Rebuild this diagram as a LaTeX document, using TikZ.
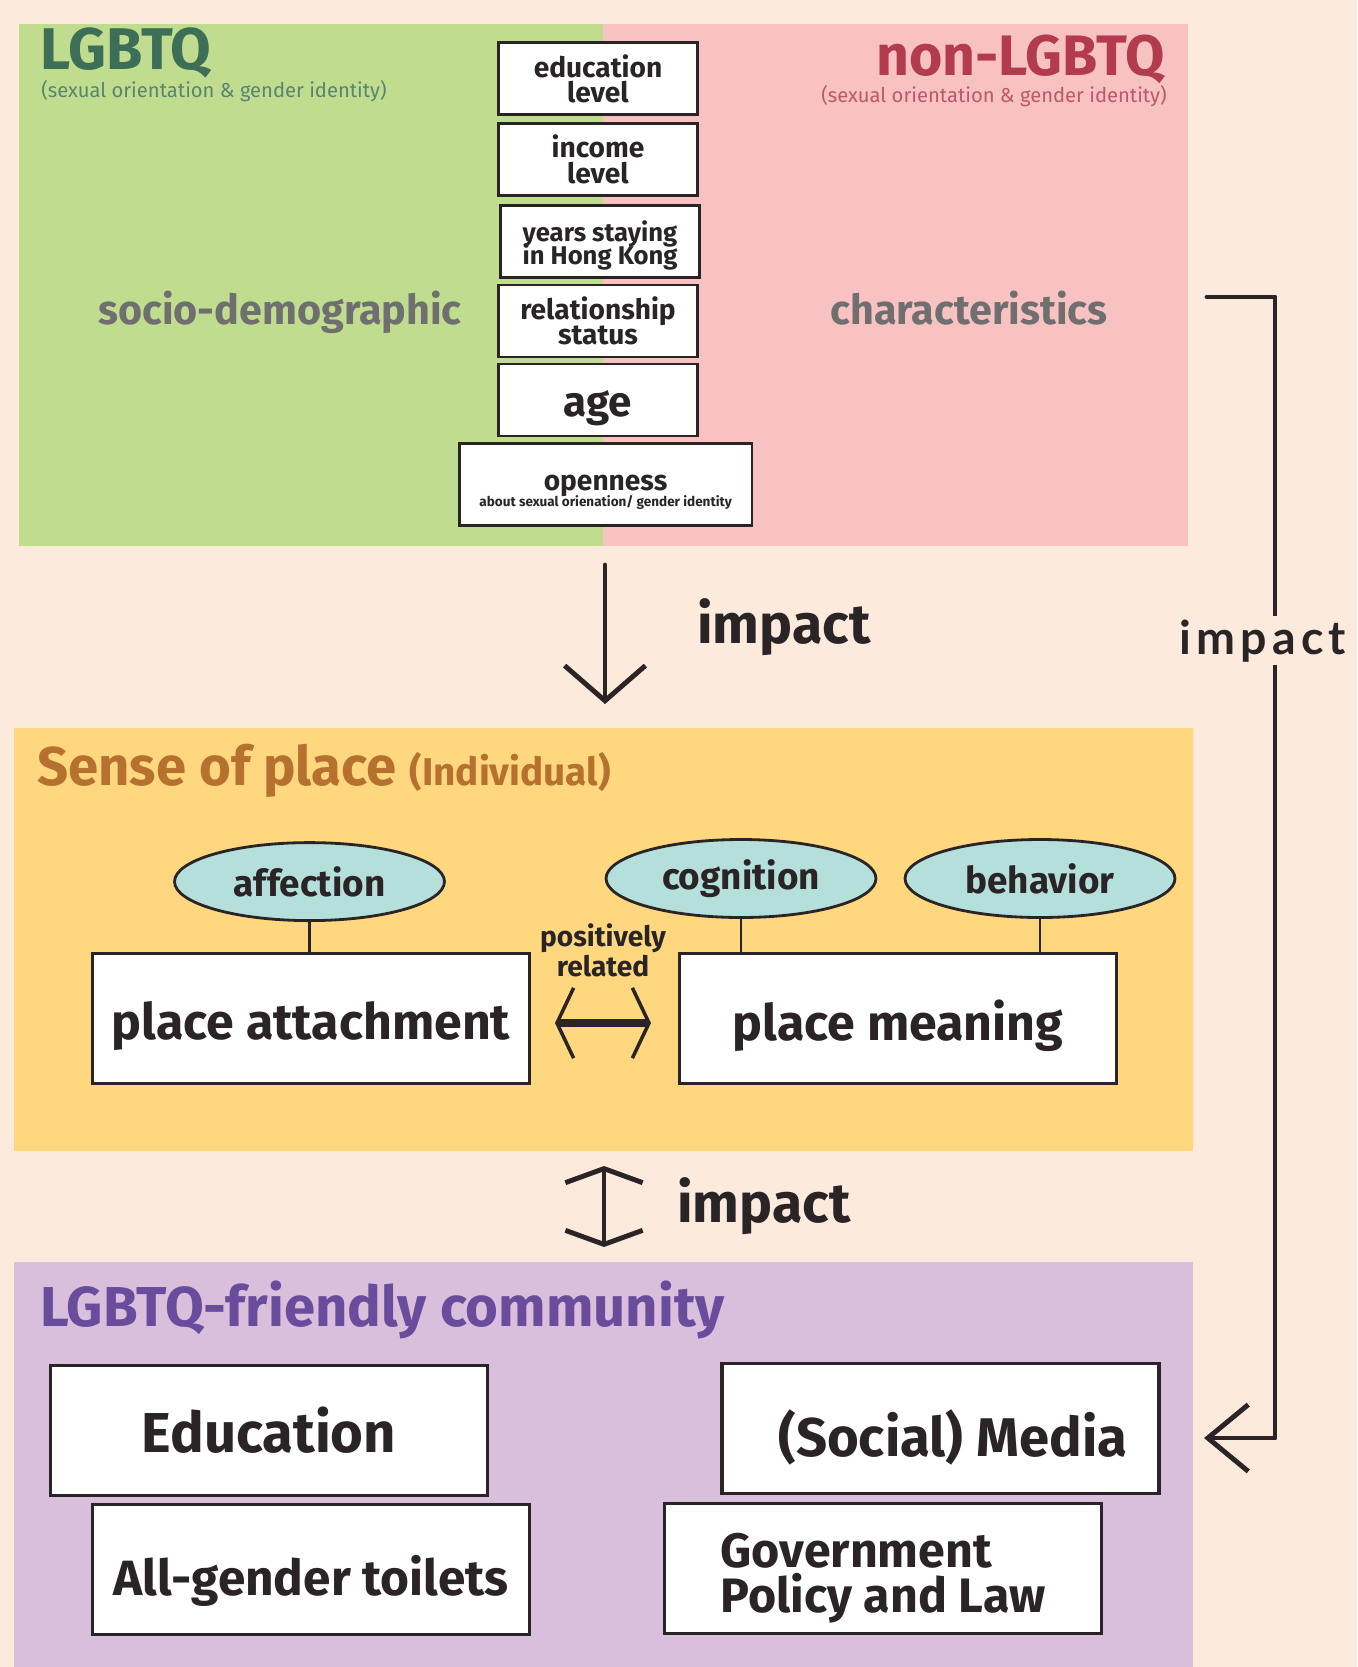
\documentclass[tikz,border=0pt]{standalone}
\usepackage{fontspec}
\setmainfont{Fira Sans}
\newfontfamily\widefont[LetterSpace=11]{Lato}
\usetikzlibrary{shapes.geometric,arrows.meta}

\definecolor{peach}{HTML}{FCEBDC}
\definecolor{lgbtgreen}{HTML}{C0DC8E}
\definecolor{nonpink}{HTML}{F9C2C2}
\definecolor{placeyellow}{HTML}{FED77E}
\definecolor{communitypurple}{HTML}{DABFDC}
\definecolor{traitteal}{HTML}{B5DFDA}
\definecolor{titlegreen}{HTML}{3D6E58}
\definecolor{titlered}{HTML}{B23B4D}
\definecolor{titlegray}{HTML}{6F6F6F}
\definecolor{titleorange}{HTML}{B6712F}
\definecolor{titleviolet}{HTML}{6A4C9C}
\definecolor{ink}{HTML}{2A2426}

\newcommand{\fsz}[2]{\fontsize{#1}{#2}\selectfont}
% lower a line of text without changing the box it takes up
\newcommand{\dropline}[2]{\raisebox{-#1}[\height][\depth]{#2}}

\begin{document}
\begin{tikzpicture}[x=0.02cm,y=-0.02cm,
    factorbox/.style={draw=ink, fill=white, line width=1.5pt, inner sep=0pt,
        minimum width=3.98cm, minimum height=1.44cm, align=center, text=ink, font=\bfseries},
    bigbox/.style={draw=ink, fill=white, line width=1.8pt, inner sep=0pt,
        minimum width=8.74cm, minimum height=2.6cm, align=center, text=ink, font=\bfseries},
    trait/.style={ellipse, draw=ink, fill=traitteal, line width=1.6pt, inner sep=0pt,
        minimum width=5.4cm, minimum height=1.56cm, text=ink, font=\bfseries\fsz{21}{21}},
    heading/.style={inner sep=0pt, anchor=base west, font=\bfseries\fsz{31}{31}},
    impactlabel/.style={inner sep=0pt, anchor=base west, text=ink, font=\bfseries\fsz{31.5}{31.5}},
    pointer/.style={draw=ink, line width=2.8pt, line cap=round, line join=round},
]
\useasboundingbox (0,0) rectangle (1357,1667);
\fill[peach] (0,0) rectangle (1357,1667);

% panels
\fill[lgbtgreen] (19,24) rectangle (603,546);
\fill[nonpink] (603,24) rectangle (1188,546);
\fill[placeyellow] (14,728) rectangle (1193,1151);
\fill[communitypurple] (14,1262) rectangle (1193,1667);

% top panel
\node[heading, text=titlegreen, font=\bfseries\fsz{33.5}{33.5}] (lgbtq) at (40,69) {LGBTQ};
\node[inner sep=0pt, anchor=base west, text=titlegreen!85!white, font=\fsz{11.5}{11.5}] (lgbtqsub) at (41,97)
    {(sexual orientation \& gender identity)};
\node[heading, anchor=base east, text=titlered, font=\bfseries\fsz{32.5}{32.5}] (nonlgbtq) at (1165,75) {non-LGBTQ};
\node[inner sep=0pt, anchor=base east, text=titlered!85!white, font=\fsz{11.5}{11.5}] (nonlgbtqsub) at (1167,102)
    {(sexual orientation \& gender identity)};
\node[inner sep=0pt, anchor=base, text=titlegray, font=\bfseries\fsz{23.5}{23.5}] (socio) at (280,324) {socio-demographic};
\node[inner sep=0pt, anchor=base, text=titlegray, font=\bfseries\fsz{23.5}{23.5}] (charac) at (969,324) {characteristics};

\foreach \name/\x/\y/\size/\lead/\txt in {edu/598/78.7/16/14.5/{education\\level},
    income/598/159.5/16/14.5/{income\\level},
    years/600/241.5/14.6/13.3/{\dropline{2pt}{years staying}\\[-3pt]\dropline{2pt}{in Hong Kong}},
    relation/598/321/16/14.5/{relationship\\status}}{
    \node[factorbox, font=\bfseries\fsz{\size}{\lead}] (\name) at (\x,\y) {\txt};
}
\node[factorbox, font=\bfseries\fsz{24}{24}] (age) at (598,400) {\dropline{4.5pt}{age}};
\node[factorbox, minimum width=5.85cm, minimum height=1.64cm, font=\bfseries\fsz{16}{10}] (openness) at (605.6,484.5)
    {\dropline{5pt}{openness}\\\dropline{4pt}{\fsz{7.7}{8}about sexual orienation/ gender identity}};

% impact arrows
\coordinate (downfrom) at (605,565);
\coordinate (downto) at (605,704);
\draw[pointer, -{Straight Barb[length=20pt,width=46pt]}] (downfrom) -- (downto);
\node[impactlabel] (impactdown) at (697,643) {impact};

\coordinate (loopfrom) at (1207,297);
\coordinate (loopto) at (1204,1438);
\draw[pointer, line width=2.8pt, -{Straight Barb[length=23pt,width=38pt]}]
    (loopfrom) -- (1275,297) |- (loopto);
\node[inner sep=2pt, fill=peach, anchor=base west, text=ink, font=\widefont\bfseries\fsz{26.5}{26.5}]
    (impactloop) at (1176,654) {impact};

% sense of place
\node[heading, text=titleorange] (sense) at (37,785) {Sense of place {\fsz{22}{22}(Individual)}};
\node[trait] (affection) at (309.5,881.6) {affection};
\node[trait] (cognition) at (741,878.5) {cognition};
\node[trait] (behavior) at (1040,878.5) {behavior};
\node[bigbox, font=\bfseries\fsz{28.5}{28.5}] (attach) at (311,1018.8) {\dropline{4.2pt}{place attachment}};
\node[bigbox, font=\bfseries\fsz{28.5}{28.5}] (meaning) at (898,1018.8) {\dropline{4.2pt}{place meaning}};
\foreach \trait/\target in {affection/attach, cognition/meaning, behavior/meaning}{
    \draw[ink, line width=1.5pt] (\trait.south) -- (\trait.south |- \target.north);
}
\node[align=center, inner sep=0pt, anchor=base, text=ink, font=\bfseries\fsz{16}{15}] (related) at (603,976)
    {positively\\related};
\coordinate (pairleft) at (555,1023);
\coordinate (pairright) at (651,1023);
\draw[ink, line width=4.5pt,
    {Straight Barb[length=9.5pt,width=40pt,line width=2pt]}-{Straight Barb[length=9.5pt,width=40pt,line width=2pt]}]
    (pairleft) -- (pairright);

% community
\coordinate (mutualfrom) at (604,1166);
\coordinate (mutualto) at (604,1247);
\draw[pointer, {Straight Barb[length=8pt,width=44pt]}-{Straight Barb[length=8pt,width=44pt]}] (mutualfrom) -- (mutualto);
\node[impactlabel] (impactmutual) at (677,1222) {impact};

\node[heading, text=titleviolet, font=\bfseries\fsz{32}{32}] (community) at (40,1326) {LGBTQ-friendly community};
\node[bigbox, font=\bfseries\fsz{32}{32}] (education) at (269,1430.5) {Education};
\node[bigbox, font=\bfseries\fsz{28.2}{28.2}] (toilets) at (311,1569.7) {\dropline{6.5pt}{All-gender toilets}};
\node[bigbox, font=\bfseries\fsz{31}{31}] (media) at (940.5,1428.8) {\dropline{4.8pt}{\hspace*{14pt}(Social) Media}};
\node[bigbox, align=left, font=\bfseries\fsz{27.5}{25.3}] (government) at (883,1568.7)
    {\dropline{5.4pt}{Government}\\\dropline{5.4pt}{Policy and Law}};
\end{tikzpicture}
\end{document}
